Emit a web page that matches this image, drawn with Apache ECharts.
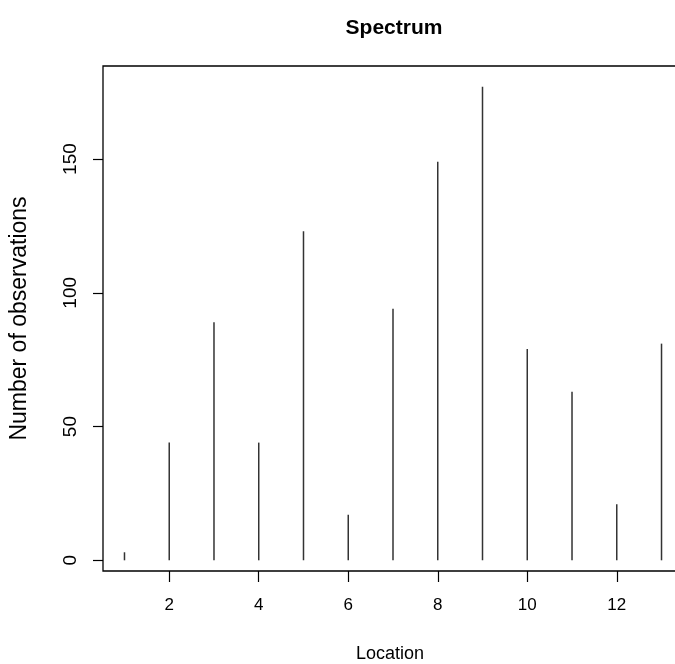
<!DOCTYPE html>
<html>
<head>
<meta charset="utf-8">
<script src="https://cdn.jsdelivr.net/npm/echarts@6/dist/echarts.min.js"></script>
<style>html,body{margin:0;padding:0;background:#fff;}#c{width:675px;height:664px;}</style>
</head>
<body>
<div id="c"></div>
<script>
const locations = [1,2,3,4,5,6,7,8,9,10,11,12,13];
const counts = [3,44,89,44,123,17,94,149,177,79,63,21,81];
const xTicks = [2,4,6,8,10,12];
const yTicks = [0,50,100,150];

const chart = echarts.init(document.getElementById('c'));
const font = '"Liberation Sans", Arial, Helvetica, sans-serif';
chart.setOption({
  animation: false,
  backgroundColor: '#fff',
  title: {
    text: 'Spectrum', left: 389, top: 13, textAlign: 'center',
    textStyle: {fontFamily: font, fontWeight: 'bold', fontSize: 21, color: '#000'}
  },
  grid: {left: 103, top: 66, right: -8, bottom: 93, show: true, borderColor: '#000', borderWidth: 1.3,
         containLabel: false, outerBoundsMode: 'none'},
  xAxis: {
    type: 'value', min: 0.52, max: 13.48,
    name: 'Location', nameLocation: 'middle', nameGap: 74,
    nameTextStyle: {fontFamily: font, fontSize: 18, color: '#000', padding: [0, 6, 0, 0]},
    axisLine: {show: false, onZero: false},
    axisTick: {show: true, inside: false, length: 11, customValues: xTicks, lineStyle: {color: '#000', width: 1.2}},
    axisLabel: {customValues: xTicks, fontFamily: font, fontSize: 17, color: '#000', margin: 26},
    splitLine: {show: false}
  },
  yAxis: {
    type: 'value', min: -4.0, max: 184.8,
    name: 'Number of observations', nameLocation: 'middle', nameGap: 72,
    nameTextStyle: {fontFamily: font, fontSize: 23, color: '#000'},
    axisLine: {show: false, onZero: false},
    axisTick: {show: true, inside: false, length: 10, customValues: yTicks, lineStyle: {color: '#000', width: 1.2}},
    axisLabel: {customValues: yTicks, rotate: 90, fontFamily: font, fontSize: 19, color: '#000', margin: 23, align: 'center', verticalAlign: 'bottom'},
    splitLine: {show: false}
  },
  series: [{
    type: 'bar',
    data: locations.map((x, i) => [x, counts[i]]),
    barWidth: 1.5,
    itemStyle: {color: '#333'}
  }]
});
</script>
</body>
</html>
